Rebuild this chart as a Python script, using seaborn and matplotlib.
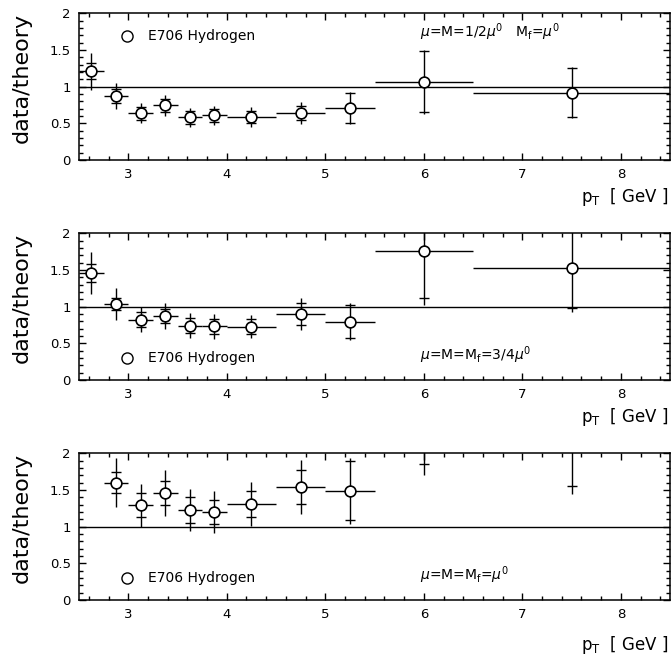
import numpy as np
import matplotlib
matplotlib.use("Agg")
import matplotlib.pyplot as plt
import seaborn as sns
from matplotlib.ticker import MultipleLocator, FormatStrFormatter

# pT bins (GeV)
pt = [2.625, 2.875, 3.125, 3.375, 3.625, 3.875, 4.25, 4.75, 5.25, 6.0, 7.5]
bin_lo = [2.5, 2.75, 3.0, 3.25, 3.5, 3.75, 4.0, 4.5, 5.0, 5.5, 6.5]
bin_hi = [2.75, 3.0, 3.25, 3.5, 3.75, 4.0, 4.5, 5.0, 5.5, 6.5, 8.5]

# mu = M = 1/2 mu0, Mf = mu0
ratio_half = [1.21, 0.873, 0.636, 0.745, 0.582, 0.609, 0.586, 0.645, 0.709, 1.065, 0.917]
stat_half = [0.107, 0.095, 0.087, 0.086, 0.091, 0.087, 0.087, 0.097, 0.20, 0.415, 0.335]
tot_half = [0.25, 0.18, 0.137, 0.148, 0.13, 0.127, 0.13, 0.152, 0.22, 0.44, 0.35]

# mu = M = Mf = 3/4 mu0
ratio_34 = [1.461, 1.037, 0.825, 0.871, 0.742, 0.733, 0.728, 0.899, 0.797, 1.766, 1.523]
stat_34 = [0.12, 0.085, 0.104, 0.099, 0.104, 0.10, 0.10, 0.145, 0.224, 0.65, 0.537]
tot_34 = [0.29, 0.22, 0.173, 0.18, 0.166, 0.169, 0.155, 0.214, 0.254, 0.74, 0.60]

# mu = M = Mf = mu0 (first point off scale)
ratio_1 = [np.nan, 1.60, 1.291, 1.455, 1.227, 1.20, 1.305, 1.536, 1.49, 2.93, 2.40]
stat_1 = [np.nan, 0.148, 0.164, 0.164, 0.177, 0.168, 0.18, 0.234, 0.40, 1.08, 0.85]
tot_1 = [np.nan, 0.333, 0.291, 0.314, 0.285, 0.28, 0.30, 0.368, 0.45, 1.22, 0.95]

panels = [
    (ratio_half, stat_half, tot_half,
     r"$\mu$=M=1/2$\mu^0$   M$_{\rm f}$=$\mu^0$", 0.845, 0.87, -0.25),
    (ratio_34, stat_34, tot_34,
     r"$\mu$=M=M$_{\rm f}$=3/4$\mu^0$", 0.148, 0.17, -0.25),
    (ratio_1, stat_1, tot_1,
     r"$\mu$=M=M$_{\rm f}$=$\mu^0$", 0.148, 0.17, -0.31),
]

sns.set_style("ticks")
plt.rcParams["font.family"] = ["DejaVu Sans"]
plt.rcParams["mathtext.fontset"] = "dejavusans"
for key in ["text.color", "axes.labelcolor", "xtick.color", "ytick.color",
            "axes.edgecolor"]:
    plt.rcParams[key] = "black"

fig = plt.figure(figsize=(6.71, 6.56), dpi=100)
bottoms = [0.7561, 0.4207, 0.0854]
height = 0.2236

x = np.array(pt)
xerr = [x - np.array(bin_lo), np.array(bin_hi) - x]

for (vals, stat, tot, note, leg_y, note_y, lab_y), b in zip(panels, bottoms):
    ax = fig.add_axes([0.1177, b, 0.881, height])
    y = np.array(vals)
    st = np.array(stat)
    tt = np.array(tot)

    ax.axhline(1, color="black", lw=1.0, zorder=1)
    ax.errorbar(x, y, xerr=xerr, yerr=tt, fmt="none", ecolor="black",
                elinewidth=1.0, capsize=0, zorder=2)
    # statistical error ticks
    ax.plot(x, y + st, ls="none", marker="_", ms=7, mew=1.0, color="black", zorder=3)
    ax.plot(x, y - st, ls="none", marker="_", ms=7, mew=1.0, color="black", zorder=3)
    sns.scatterplot(x=x, y=y, s=60, facecolor="white", edgecolor="black",
                    linewidth=1.2, zorder=5, ax=ax, clip_on=True)

    ax.set_xlim(2.5, 8.5)
    ax.set_ylim(0, 2)
    ax.xaxis.set_major_locator(MultipleLocator(1))
    ax.xaxis.set_minor_locator(MultipleLocator(0.2))
    ax.yaxis.set_major_locator(MultipleLocator(0.5))
    ax.yaxis.set_minor_locator(MultipleLocator(0.1))
    ax.yaxis.set_major_formatter(FormatStrFormatter("%g"))
    ax.tick_params(which="both", direction="in", top=True, right=True,
                   labelsize=9.5, width=1.0, pad=6)
    ax.tick_params(which="major", length=5)
    ax.tick_params(which="minor", length=3)
    for sp in ax.spines.values():
        sp.set_linewidth(1.1)

    ax.set_ylabel("data/theory", fontsize=16)
    ax.yaxis.set_label_coords(-0.08, 0.56)

    # legend entry
    ax.plot([0.082], [leg_y], transform=ax.transAxes, ls="none", marker="o",
            ms=8, mfc="white", mec="black", mew=1.0)
    ax.text(0.117, leg_y, "E706 Hydrogen", transform=ax.transAxes,
            fontsize=10, va="center", ha="left")
    ax.text(0.577, note_y, note, transform=ax.transAxes,
            fontsize=10, va="center", ha="left")
    ax.text(0.998, lab_y, r"p$_{\rm T}$  [ GeV ]", transform=ax.transAxes,
            fontsize=12, va="center", ha="right")

fig.savefig("out.png", dpi=100)
